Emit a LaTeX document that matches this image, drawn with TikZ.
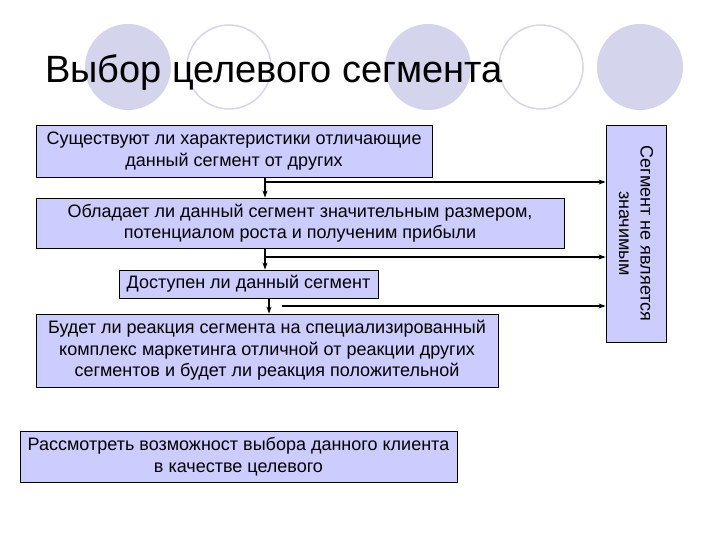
\documentclass[tikz,border=0pt]{standalone}
\usepackage{fontspec}
\setmainfont{Liberation Sans}
\usetikzlibrary{arrows.meta,positioning}
\definecolor{boxfill}{RGB}{204,204,255}
\definecolor{ringfill}{RGB}{212,212,236}
\definecolor{ringline}{RGB}{214,214,230}
\tikzset{font=\fontsize{18}{21.5}\selectfont}
\tikzset{qbox/.style={draw=black, fill=boxfill, inner sep=0pt, align=center, line width=0.8pt}}
\tikzset{arr/.style={-{Stealth[length=7pt,width=5pt]}, line width=1.6pt}}

\begin{document}
\begin{tikzpicture}[x=1pt,y=-1pt]
  \useasboundingbox (0,0) rectangle (720,540);
  % rings behind the title
  \foreach \cx in {128,428,640}
    \fill[ringfill] (\cx,67) circle[radius=43];
  \foreach \cx in {229,541}
    \draw[ringline, line width=1.5pt, fill=white] (\cx,67) circle[radius=42];
  \node[anchor=base west, inner sep=0pt, font=\fontsize{38}{46}\selectfont] (title) at (45,83)
    {Выбор целевого сегмента};

  % questions
  \node[qbox, minimum width=396pt, minimum height=52pt] (q1) at (234,151)
    {Существуют ли характеристики отличающие\\данный сегмент от других};
  \node[qbox, minimum width=528pt, minimum height=50pt] (q2) at (300,223)
    {Обладает ли данный сегмент значительным размером,\\потенциалом роста и полученим прибыли};
  \node[qbox, minimum width=259pt, minimum height=28pt] (q3) at (248.5,284)
    {Доступен ли данный сегмент};
  \node[qbox, minimum width=462pt, minimum height=73pt] (q4) at (267,350.5)
    {Будет ли реакция сегмента на специализированный\\комплекс маркетинга отличной от реакции других\\сегментов и будет ли реакция положительной};
  \node[qbox, minimum width=437pt, minimum height=51pt] (res) at (238.5,456.5)
    {Рассмотреть возможност выбора данного клиента\\в качестве целевого};
  \node[qbox, rotate=-90, minimum width=217pt, minimum height=60pt] (nz) at (636,233.5)
    {Сегмент не является\\значимым};

  % branch points
  \coordinate (j1) at (265,182);
  \coordinate (j2) at (265,257);
  \coordinate (j3) at (269,306);
  \coordinate (j3s) at (282,306);

  \draw[arr] (q1.south -| j1) -- (q2.north -| j1);
  \draw[arr] (j1) -- (j1 -| nz.south);
  \draw[arr] (q2.south -| j2) -- (q3.north -| j2);
  \draw[arr] (j2) -- (j2 -| nz.south);
  \draw[arr] (q3.south -| j3) -- (q4.north -| j3);
  \draw[arr] (j3s) -- (j3s -| nz.south);
\end{tikzpicture}
\end{document}
